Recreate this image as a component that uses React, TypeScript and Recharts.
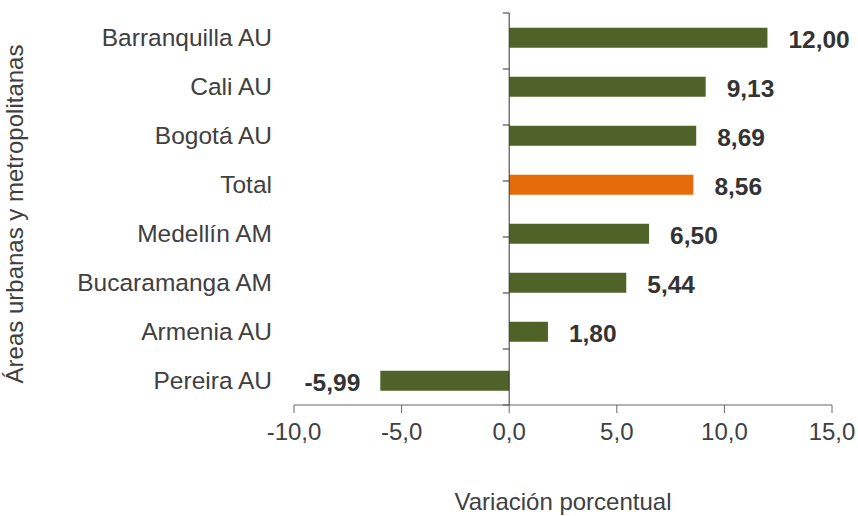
import React from 'react';
import {
  BarChart,
  Bar,
  XAxis,
  YAxis,
  Cell,
  LabelList,
  ReferenceLine
} from 'recharts';

// Áreas urbanas y metropolitanas, top to bottom
const categories = [
  'Barranquilla AU',
  'Cali AU',
  'Bogotá AU',
  'Total',
  'Medellín AM',
  'Bucaramanga AM',
  'Armenia AU',
  'Pereira AU'
];
const values = [12.0, 9.13, 8.69, 8.56, 6.5, 5.44, 1.8, -5.99];
const xTicks = [-10, -5, 0, 5, 10, 15];
// category boundaries, used for the small ticks on the zero line
const bandEdges = [0, 1, 2, 3, 4, 5, 6, 7, 8];

const GREEN = '#4F6228';
const ORANGE = '#E46C0A';

const data = categories.map((name, i) => ({ name, value: values[i] }));

const fmt = (v: number, digits: number) => v.toFixed(digits).replace('.', ',');

const ValueLabel = (props: any) => {
  const vb = props.viewBox ?? props;
  const x = Number(vb.x ?? props.x);
  const y = Number(vb.y ?? props.y);
  const w = Number(vb.width ?? props.width);
  const h = Number(vb.height ?? props.height);
  const v = Number(props.value);
  const neg = v < 0;
  const left = Math.min(x, x + w);
  const right = Math.max(x, x + w);
  return (
    <text
      x={neg ? left - 20 : right + 21}
      y={y + h / 2 + 1.5}
      dy="0.35em"
      textAnchor={neg ? 'end' : 'start'}
      fill="#333333"
      fontSize={24.5}
      fontWeight="bold"
    >
      {fmt(v, 2)}
    </text>
  );
};

export default function App() {
  return (
    <div style={{ position: 'absolute', left: 0, top: 0, fontFamily: '"Liberation Sans", Arial, sans-serif' }}>
      <BarChart
        width={858}
        height={516}
        data={data}
        layout="vertical"
        margin={{ top: 13, right: 26, bottom: 0, left: 0 }}
        barCategoryGap="30%"
      >
        <XAxis
          type="number"
          domain={[-10, 15]}
          ticks={xTicks}
          tickFormatter={(v) => fmt(v, 1)}
          stroke="#666666"
          tickSize={8}
          tickMargin={10}
          height={111}
          tick={{ fill: '#404040', fontSize: 24 }}
          label={{ value: 'Variación porcentual', position: 'insideBottom', offset: 6, fill: '#404040', fontSize: 24 }}
        />
        <YAxis
          type="category"
          dataKey="name"
          width={294}
          axisLine={false}
          tickLine={false}
          tickSize={6}
          tickMargin={16}
          interval={0}
          tick={{ fill: '#404040', fontSize: 24.5 }}
          label={{ value: 'Áreas urbanas y metropolitanas', angle: -90, position: 'center', dx: -133, dy: 5, fill: '#404040', fontSize: 24 }}
        />
        <YAxis yAxisId="edge" type="number" domain={[0, 8]} hide />
        <Bar dataKey="value" isAnimationActive={false}>
          {data.map((d) => (
            <Cell key={d.name} fill={d.name === 'Total' ? ORANGE : GREEN} />
          ))}
          <LabelList dataKey="value" content={ValueLabel} />
        </Bar>
        <ReferenceLine x={0} stroke="#333333" strokeWidth={1} />
        {bandEdges.map((k) => (
          <ReferenceLine
            key={k}
            yAxisId="edge"
            segment={[{ x: -0.3, y: k }, { x: 0, y: k }]}
            stroke="#333333"
          />
        ))}
      </BarChart>
    </div>
  );
}
